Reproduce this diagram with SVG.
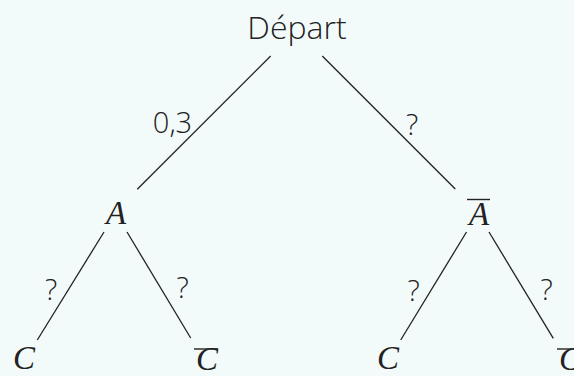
<svg xmlns="http://www.w3.org/2000/svg" width="574" height="376" viewBox="0 0 574 376">
<style>
.lbl{font-family:"Open Sans",Lato,"Noto Sans",sans-serif;font-weight:300;font-size:29px;fill:#222;text-anchor:middle}
.math{font-family:"Liberation Serif","DejaVu Serif",serif;font-style:italic;font-size:33px;fill:#222;text-anchor:middle}
.e{stroke:#222;stroke-width:1.3;fill:none}
.bar{stroke:#222;stroke-width:1.4}
</style>
<rect width="574" height="376" fill="#f3fafa"/>
<g id="connectors">
<line class="e" x1="270.7" y1="56" x2="137.3" y2="189.3"/>
<line class="e" x1="322.3" y1="56" x2="455.3" y2="189"/>
<line class="e" x1="104" y1="232" x2="37.3" y2="340"/>
<line class="e" x1="127" y1="232" x2="190.7" y2="338"/>
<line class="e" x1="466.5" y1="232" x2="400.7" y2="340"/>
<line class="e" x1="489" y1="232" x2="553.3" y2="338.3"/>
<text class="lbl" x="172.5" y="133">0,3</text>
<text class="lbl" x="412" y="135">?</text>
<text class="lbl" x="51" y="300">?</text>
<text class="lbl" x="182.5" y="298">?</text>
<text class="lbl" x="413.5" y="301">?</text>
<text class="lbl" x="546.5" y="300">?</text>
</g>
<g id="depart"><text class="lbl" x="297" y="39" style="font-size:32px">Départ</text></g>
<g id="A"><text class="math" x="116" y="224">A</text></g>
<g id="Abar"><line class="bar" x1="467" y1="199.5" x2="490" y2="199.5"/><text class="math" x="479" y="225">A</text></g>
<g id="C1"><text class="math" x="24" y="369">C</text></g>
<g id="C1bar"><line class="bar" x1="194" y1="349" x2="218" y2="349"/><text class="math" x="207" y="370">C</text></g>
<g id="C2"><text class="math" x="388" y="369">C</text></g>
<g id="C2bar"><line class="bar" x1="557" y1="349" x2="581" y2="349"/><text class="math" x="570" y="370">C</text></g>
</svg>
